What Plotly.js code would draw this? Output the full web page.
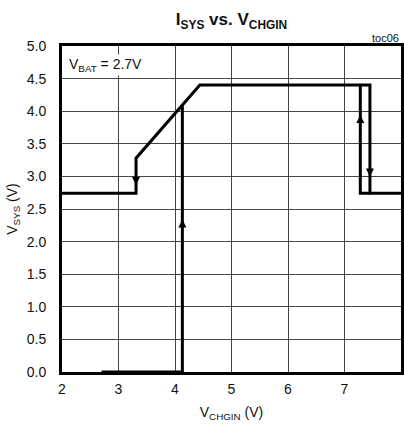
<!DOCTYPE html>
<html>
<head>
<meta charset="utf-8">
<script src="https://cdn.plot.ly/plotly-3.0.1.min.js"></script>
<style>html,body{margin:0;padding:0;background:#fff;}#chart{width:404px;height:427px;}</style>
</head>
<body>
<div id="chart"></div>
<script>
// Rising/falling hysteresis path of V_SYS vs V_CHGIN
var pathX = [2, 3.31, 3.31, 4.44, 7.45, 7.45, 8];
var pathY = [2.74, 2.74, 3.28, 4.40, 4.40, 2.74, 2.74];
// Start-up branch from 0 V
var riseX = [2.7, 4.13, 4.13];
var riseY = [0, 0, 4.09];
// Over-voltage recovery branch
var ovpX = [7.45, 7.28, 7.28];
var ovpY = [2.74, 2.74, 4.40];
// Direction arrows (tip positions)
var upArrowX = [4.13, 7.28];
var upArrowY = [2.34, 3.94];
var downArrowX = [3.31, 7.45];
var downArrowY = [2.87, 3.00];

var xTicks = [2, 3, 4, 5, 6, 7, 8];
var yTicks = [0, 0.5, 1, 1.5, 2, 2.5, 3, 3.5, 4, 4.5, 5];
var yTickText = yTicks.map(function(v){ return v.toFixed(1); });

var lineStyle = {color: '#000', width: 3};
var font = '"Liberation Sans Narrow", Arial, "Liberation Sans", sans-serif';

var traces = [
  {x: pathX, y: pathY, mode: 'lines', line: lineStyle, hoverinfo: 'skip'},
  {x: riseX, y: riseY, mode: 'lines', line: lineStyle, hoverinfo: 'skip'},
  {x: ovpX, y: ovpY, mode: 'lines', line: lineStyle, hoverinfo: 'skip'},
  {x: upArrowX, y: upArrowY, mode: 'markers', marker: {symbol: 'arrow-up', size: 8, color: '#000', line: {width: 0}}, hoverinfo: 'skip'},
  {x: downArrowX, y: downArrowY, mode: 'markers', marker: {symbol: 'arrow-down', size: 8, color: '#000', line: {width: 0}}, hoverinfo: 'skip'}
];

var layout = {
  width: 404, height: 427,
  margin: {l: 62, r: 3, t: 46, b: 55},
  paper_bgcolor: '#fff', plot_bgcolor: '#fff',
  showlegend: false,
  font: {family: font, color: '#111', size: 14},
  title: {
    text: '<b>I<sub>SYS</sub> vs. V<sub>CHGIN</sub></b>',
    font: {family: font, size: 17, color: '#111'},
    xref: 'paper', x: 0.5, xanchor: 'center', yref: 'container', y: 0.955, yanchor: 'middle'
  },
  xaxis: {
    range: [2, 8], tickvals: xTicks, ticktext: xTicks.map(String),
    showgrid: true, gridcolor: '#444', gridwidth: 1, zeroline: false,
    showline: true, linecolor: '#000', linewidth: 3, mirror: true,
    ticks: '', ticklen: 0, ticklabelstandoff: 2, tickfont: {size: 14, family: font, color: '#111'},
    title: {text: 'V<sub>CHGIN</sub> (V)', font: {size: 14, family: font, color: '#111'}, standoff: 12}
  },
  yaxis: {
    range: [0, 5], tickvals: yTicks, ticktext: yTickText,
    showgrid: true, gridcolor: '#444', gridwidth: 1, zeroline: false,
    showline: true, linecolor: '#000', linewidth: 3, mirror: true,
    ticks: '', ticklen: 0, ticklabelstandoff: 10, tickfont: {size: 14, family: font, color: '#111'},
    title: {text: 'V<sub>SYS</sub> (V)', font: {size: 14, family: font, color: '#111'}, standoff: 6}
  },
  annotations: [
    {xref: 'paper', yref: 'paper', x: 0.015, y: 0.975, xanchor: 'left', yanchor: 'top',
     text: 'V<sub>BAT</sub> = 2.7V', showarrow: false, bgcolor: '#fff',
     font: {size: 14, family: font, color: '#111'}},
    {xref: 'paper', yref: 'paper', x: 1.0, y: 1.0, xanchor: 'right', yanchor: 'bottom',
     text: 'toc06', showarrow: false, font: {size: 11, family: font, color: '#111'}}
  ]
};

Plotly.newPlot('chart', traces, layout, {displayModeBar: false, staticPlot: true});
</script>
</body>
</html>
